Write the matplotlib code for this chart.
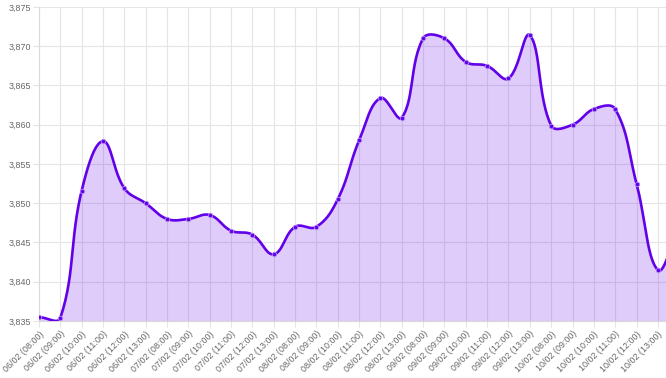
import matplotlib
matplotlib.use("Agg")
import matplotlib.pyplot as plt
import numpy as np

days = ["06/02", "07/02", "08/02", "09/02", "10/02"]
hours = ["08:00", "09:00", "10:00", "11:00", "12:00", "13:00"]
labels = [f"{d} ({h})" for d in days for h in hours] + ["11/02 (08:00)"]

values = [3.8355, 3.8354, 3.8516, 3.8579, 3.8519, 3.8500, 3.8480, 3.8480,
          3.8485, 3.8465, 3.8460, 3.8435, 3.8470, 3.8470, 3.8505, 3.8580,
          3.8634, 3.8609, 3.8710, 3.8710, 3.8680, 3.8675, 3.8659, 3.8714,
          3.8599, 3.8600, 3.8620, 3.8620, 3.8525, 3.8415, 3.8470]

y_ticks = [3.835, 3.840, 3.845, 3.850, 3.855, 3.860, 3.865, 3.870, 3.875]

line_color = "#6200EA"


def chart_spline(x, y, sx, sy, tension=0.4, steps=30):
    # bezier like Chart.js, control points from pixel distances
    px = np.asarray(x, float) * sx
    py = np.asarray(y, float) * sy
    n = len(px)
    cpa, cpb = [], []
    for i in range(n):
        p0 = np.array([px[max(i - 1, 0)], py[max(i - 1, 0)]])
        p1 = np.array([px[i], py[i]])
        p2 = np.array([px[min(i + 1, n - 1)], py[min(i + 1, n - 1)]])
        d01 = np.hypot(*(p1 - p0))
        d12 = np.hypot(*(p2 - p1))
        tot = d01 + d12
        s01 = d01 / tot if tot else 0
        s12 = d12 / tot if tot else 0
        cpa.append(p1 - tension * s01 * (p2 - p0))
        cpb.append(p1 + tension * s12 * (p2 - p0))
    xs, ys = [], []
    t = np.linspace(0, 1, steps)[:, None]
    for i in range(n - 1):
        a = np.array([px[i], py[i]])
        d = np.array([px[i + 1], py[i + 1]])
        b, c = cpb[i], cpa[i + 1]
        pts = (1 - t) ** 3 * a + 3 * (1 - t) ** 2 * t * b + 3 * (1 - t) * t ** 2 * c + t ** 3 * d
        xs.extend(pts[:, 0])
        ys.extend(pts[:, 1])
    return np.array(xs) / sx, np.array(ys) / sy


plt.rcParams["font.family"] = ["Liberation Sans", "DejaVu Sans"]

fig = plt.figure(figsize=(6.66, 3.78), dpi=100)
ax = fig.add_axes([39 / 666, 1 - 321 / 378, 1 - 39 / 666, (321 - 7) / 378])

x = np.arange(len(values))
cx, cy = chart_spline(x, values, 21.34, 7850)

ax.fill_between(cx, cy, y_ticks[0] - 0.01, color=line_color, alpha=0.2, linewidth=0, zorder=2)
ax.plot(cx, cy, color=line_color, linewidth=1.9, zorder=3, solid_capstyle="round")
ax.plot(x, values, "o", ms=3.2, mfc=line_color, mec="#b48cf5", mew=0.6, zorder=4, clip_on=True)

# the last point sits past the right edge of the canvas, so its label is not shown
shown = len(labels) - 1
ax.set_xticks(x[:shown])
ax.set_xticklabels(labels[:shown], rotation=45, ha="right", va="top", rotation_mode="anchor")
ax.set_yticks(y_ticks)
ax.set_yticklabels([f"{v:.3f}".replace(".", ",") for v in y_ticks])
ax.set_xlim(0, (666 - 39) / 21.34)
ax.set_ylim(y_ticks[0], y_ticks[-1])

ax.set_axisbelow(True)
ax.grid(True, color="#e5e5e5", linewidth=0.8, zorder=0)
ax.tick_params(axis="both", length=4, color="#e5e5e5", labelsize=6.4, labelcolor="#666666", pad=2)
for s in ["top", "right"]:
    ax.spines[s].set_visible(False)
for s in ["left", "bottom"]:
    ax.spines[s].set_color("#d9d9d9")
    ax.spines[s].set_linewidth(0.8)

fig.savefig("out.png", dpi=100)
